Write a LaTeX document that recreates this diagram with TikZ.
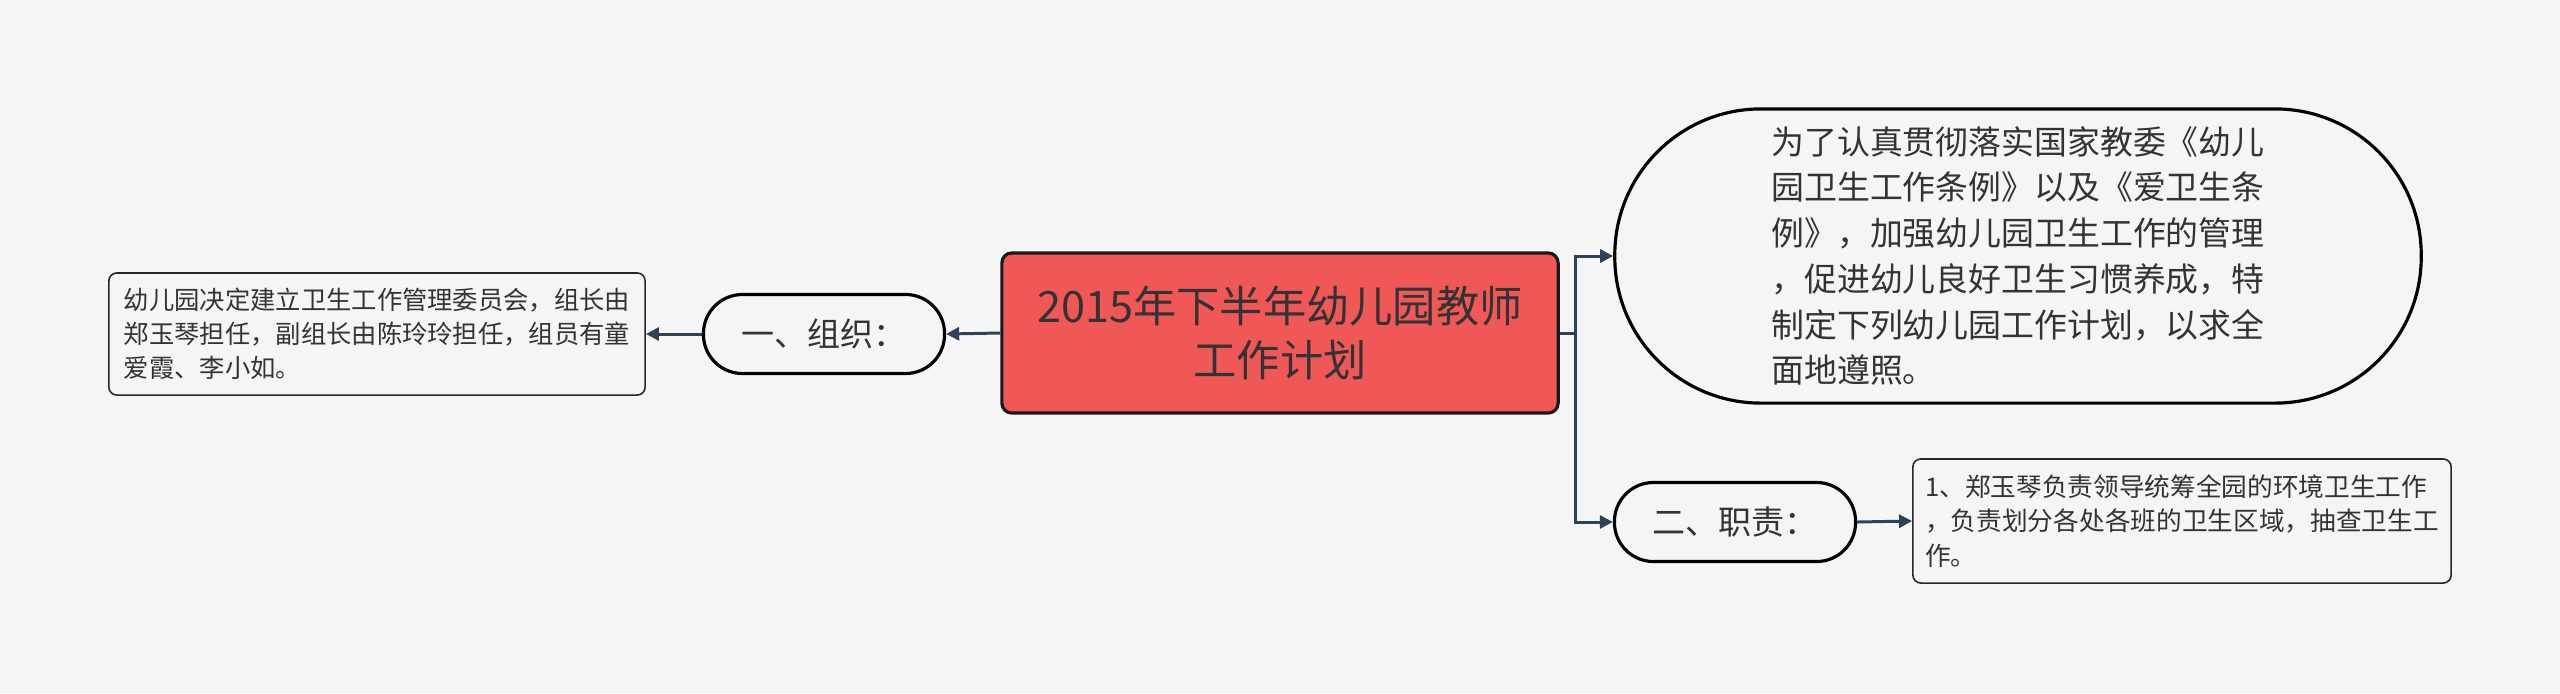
\documentclass[tikz,border=0pt]{standalone}
\usepackage{fontspec}
\setmainfont{Noto Sans CJK SC}
\usetikzlibrary{arrows.meta,positioning}
\definecolor{paper}{RGB}{245,245,245}
\definecolor{ink}{RGB}{51,51,51}
\definecolor{wire}{RGB}{46,66,87}
\definecolor{rootred}{RGB}{240,87,87}

\begin{document}
\begin{tikzpicture}[x=0.01cm,y=-0.01cm,
    root/.style={draw=black!90, line width=0.9pt, fill=rootred, rounded corners=0.1cm,
      minimum width=5.56cm, minimum height=1.6cm, align=center, text=ink,
      font=\fontsize{12.3pt}{15.3pt}\selectfont},
    pill/.style={draw=black, line width=0.9pt, fill=paper, rounded corners=0.39cm,
      minimum width=2.41cm, minimum height=0.79cm, text=ink,
      font=\fontsize{9.4pt}{12pt}\selectfont},
    leaf/.style={draw=black!85, line width=0.45pt, fill=paper, rounded corners=0.08cm,
      inner sep=0pt, align=left, text=ink, font=\fontsize{7.2pt}{9.7pt}\selectfont},
    link/.style={draw=wire, line width=0.85pt, -{Triangle[length=0.13cm,width=0.13cm]}}]
  \fill[paper] (0,0) rectangle (2560,693);
  \useasboundingbox (0,0) rectangle (2560,693);
  % centre
  \node[root] (root) at (1280,333) {2015年下半年幼儿园教师\\工作计划};
  % left branch
  \node[pill] (org) at (824,334) {一、组织：};
  \node[leaf, minimum width=5.36cm, minimum height=1.22cm] (orgtext) at (377,334)
    {幼儿园决定建立卫生工作管理委员会，组长由\\郑玉琴担任，副组长由陈玲玲担任，组员有童\\爱霞、李小如。};
  % right branch
  \node[draw=black, line width=0.9pt, fill=paper, rounded corners=1.46cm,
    minimum width=8.06cm, minimum height=2.94cm, align=left, text=ink,
    font=\fontsize{9.35pt}{13pt}\selectfont] (aim) at (2018,256)
    {为了认真贯彻落实国家教委《幼儿\\园卫生工作条例》以及《爱卫生条\\例》，加强幼儿园卫生工作的管理\\，促进幼儿良好卫生习惯养成，特\\制定下列幼儿园工作计划，以求全\\面地遵照。};
  \node[pill] (duty) at (1735,522) {二、职责：};
  \node[leaf, minimum width=5.38cm, minimum height=1.24cm,
    font=\fontsize{7.3pt}{9.9pt}\selectfont] (dutytext) at (2182,521)
    {1、郑玉琴负责领导统筹全园的环境卫生工作\\，负责划分各处各班的卫生区域，抽查卫生工\\作。};
  \coordinate (fork) at (1575,333);
  \draw[link] (root.west) -- (org.east);
  \draw[link] (org.west) -- (orgtext.east);
  \draw[link] (root.east) -- (fork) |- (aim.west);
  \draw[link] (fork) |- (duty.west);
  \draw[link] (duty.east) -- (dutytext.west);
\end{tikzpicture}
\end{document}
